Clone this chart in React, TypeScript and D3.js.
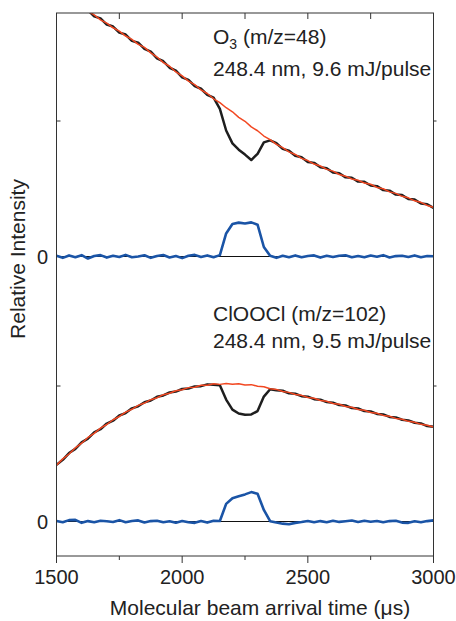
import React from "react";
import * as d3 from "d3";

const times = [1500,1525,1550,1575,1600,1625,1650,1675,1700,1725,1750,1775,1800,1825,1850,1875,1900,1925,1950,1975,2000,2025,2050,2075,2100,2125,2150,2175,2200,2225,2250,2275,2300,2325,2350,2375,2400,2425,2450,2475,2500,2525,2550,2575,2600,2625,2650,2675,2700,2725,2750,2775,2800,2825,2850,2875,2900,2925,2950,2975,3000];

// O3 panel (m/z=48)
const o3Red = [1.983,1.946,1.918,1.877,1.849,1.810,1.783,1.746,1.722,1.688,1.663,1.627,1.603,1.566,1.543,1.503,1.472,1.431,1.404,1.362,1.333,1.294,1.268,1.229,1.203,1.164,1.136,1.098,1.068,1.027,0.998,0.957,0.928,0.889,0.863,0.827,0.803,0.772,0.753,0.724,0.708,0.682,0.668,0.643,0.630,0.605,0.593,0.572,0.563,0.542,0.533,0.510,0.500,0.477,0.466,0.444,0.433,0.411,0.400,0.377,0.363];
const o3Black = [1.99,1.944,1.905,1.888,1.838,1.818,1.772,1.757,1.712,1.697,1.652,1.638,1.591,1.578,1.533,1.512,1.462,1.441,1.393,1.371,1.322,1.304,1.258,1.238,1.193,1.172,1.09,0.93,0.835,0.788,0.752,0.712,0.758,0.842,0.857,0.836,0.794,0.781,0.744,0.733,0.698,0.691,0.658,0.652,0.620,0.614,0.584,0.581,0.553,0.551,0.524,0.519,0.490,0.486,0.457,0.453,0.424,0.420,0.391,0.386,0.358];
const o3Blue = [0.005,-0.01,0.008,-0.005,0.01,-0.015,0.004,0.01,-0.008,0.006,-0.004,0.012,-0.006,0,0.009,-0.01,0.004,0.011,-0.007,0.003,-0.012,0.006,0.012,-0.004,0.008,-0.006,0.01,0.17,0.24,0.25,0.243,0.252,0.235,0.07,0.005,-0.01,0.006,-0.005,0.008,-0.006,0.004,0.008,-0.008,0.005,-0.004,0.006,0.009,-0.006,0.004,-0.005,0.007,-0.002,0.01,-0.007,0.003,0.006,-0.004,0.008,-0.005,0.004,0.002];

// ClOOCl panel (m/z=102)
const clRed = [0.415,0.462,0.498,0.544,0.578,0.62,0.65,0.689,0.716,0.751,0.775,0.807,0.828,0.857,0.874,0.899,0.913,0.936,0.946,0.965,0.972,0.988,0.991,1.005,1.006,1.016,1.012,1.019,1.013,1.017,1.008,1.01,0.998,0.995,0.98,0.975,0.959,0.953,0.937,0.931,0.915,0.909,0.893,0.887,0.871,0.865,0.849,0.843,0.827,0.821,0.805,0.799,0.783,0.777,0.761,0.755,0.739,0.733,0.717,0.71,0.697];
const clBlack = [0.418,0.455,0.505,0.536,0.584,0.612,0.657,0.681,0.723,0.744,0.782,0.8,0.835,0.85,0.88,0.893,0.92,0.93,0.952,0.959,0.978,0.982,0.997,0.999,1.012,1.01,1.005,0.90,0.826,0.797,0.788,0.79,0.815,0.922,0.976,0.968,0.965,0.946,0.943,0.925,0.921,0.903,0.899,0.881,0.877,0.859,0.856,0.837,0.834,0.815,0.812,0.794,0.79,0.772,0.768,0.751,0.746,0.729,0.724,0.704,0.699];
const clBlue = [0.004,-0.006,0.01,0.012,-0.01,0.003,-0.005,0.006,0.002,-0.004,0.01,-0.006,0.004,0.008,-0.007,0.003,0.006,-0.005,0.002,-0.009,0.004,-0.006,-0.01,0.003,-0.008,0.005,0.004,0.13,0.172,0.186,0.2,0.217,0.205,0.085,0.002,-0.008,-0.016,-0.02,-0.01,-0.004,0.004,-0.006,0.003,-0.005,0.006,-0.003,0.002,0.007,-0.004,0.005,-0.002,0.004,-0.006,0.003,0.005,-0.008,-0.01,0.002,-0.006,0.003,0.008];

const majorTicks = [1500, 2000, 2500, 3000];
const minorTicks = [1750, 2250, 2750];
const topTicks = [1750, 2000, 2250, 2500, 2750];

const W = 456, H = 621;
const L = 56.5, R = 433.5, T = 13, B = 556;

export default function App() {
  const x = d3.scaleLinear().domain([1500, 3000]).range([L, R]);
  const yTop = d3.scaleLinear().domain([0, 1]).range([256.5, 121]);
  const yBot = d3.scaleLinear().domain([0, 1]).range([521.5, 386]);

  const mk = (ys: d3.ScaleLinear<number, number>, vals: number[]) =>
    d3.line<number>().x((_, i) => x(times[i])).y((v) => ys(v))(vals) || "";

  const black = "#1e1e1e";
  const red = "#f24822";
  const blue = "#1a54a6";
  const font = "'Liberation Sans', Arial, Helvetica, sans-serif";
  const txt = "#222";

  return (
    <svg width={W} height={H} style={{ position: "absolute", left: 0, top: 0 }} fontFamily={font}>
      <defs>
        <clipPath id="plotclip">
          <rect x={L} y={T} width={R - L} height={B - T} />
        </clipPath>
      </defs>
      <rect x={0} y={0} width={W} height={H} fill="#fff" />
      {/* zero lines */}
      <line x1={L} x2={R} y1={yTop(0)} y2={yTop(0)} stroke="#111" strokeWidth={1} />
      <line x1={L} x2={R} y1={yBot(0)} y2={yBot(0)} stroke="#111" strokeWidth={1} />
      <g clipPath="url(#plotclip)" fill="none" strokeLinejoin="round">
        <path d={mk(yTop, o3Black)} stroke={black} strokeWidth={2.5} />
        <path d={mk(yTop, o3Red)} stroke={red} strokeWidth={1.5} />
        <path d={mk(yTop, o3Blue)} stroke={blue} strokeWidth={2.6} />
        <path d={mk(yBot, clBlack)} stroke={black} strokeWidth={2.5} />
        <path d={mk(yBot, clRed)} stroke={red} strokeWidth={1.5} />
        <path d={mk(yBot, clBlue)} stroke={blue} strokeWidth={2.6} />
      </g>
      {/* frame */}
      <rect x={L} y={T} width={R - L} height={B - T} fill="none" stroke="#333" strokeWidth={1} />
      {/* ticks */}
      {topTicks.map((t) => (
        <line key={"tt" + t} x1={x(t)} x2={x(t)} y1={T} y2={T + 6} stroke="#333" />
      ))}
      {majorTicks.map((t) => (
        <line key={"bm" + t} x1={x(t)} x2={x(t)} y1={B} y2={B + 7} stroke="#333" />
      ))}
      {minorTicks.map((t) => (
        <line key={"bn" + t} x1={x(t)} x2={x(t)} y1={B} y2={B + 4} stroke="#333" />
      ))}
      {[yTop(1), yBot(1)].map((yy, i) => (
        <g key={"yt" + i}>
          <line x1={L} x2={L + 4} y1={yy} y2={yy} stroke="#333" />
          <line x1={R} x2={R + 3} y1={yy} y2={yy} stroke="#333" />
        </g>
      ))}
      {/* tick labels */}
      {majorTicks.map((t) => (
        <text key={"bl" + t} x={x(t)} y={584} fontSize={20} textAnchor="middle" fill={txt}>
          {t}
        </text>
      ))}
      <text x={48} y={yTop(0) + 7} fontSize={20} textAnchor="end" fill={txt}>0</text>
      <text x={48} y={yBot(0) + 7} fontSize={20} textAnchor="end" fill={txt}>0</text>
      {/* axis labels */}
      <text x={260} y={615} fontSize={21} textAnchor="middle" fill={txt}>
        Molecular beam arrival time (μs)
      </text>
      <text transform="translate(25,259) rotate(-90)" fontSize={21} textAnchor="middle" fill={txt}>
        Relative Intensity
      </text>
      {/* annotations */}
      <text x={213} y={44} fontSize={21} fill={txt}>
        O<tspan fontSize={14} dy={5}>3</tspan>
        <tspan dy={-5}> (m/z=48)</tspan>
      </text>
      <text x={213} y={76} fontSize={21} fill={txt}>248.4 nm, 9.6 mJ/pulse</text>
      <text x={213} y={321} fontSize={21} fill={txt}>ClOOCl (m/z=102)</text>
      <text x={213} y={348} fontSize={21} fill={txt}>248.4 nm, 9.5 mJ/pulse</text>
    </svg>
  );
}
